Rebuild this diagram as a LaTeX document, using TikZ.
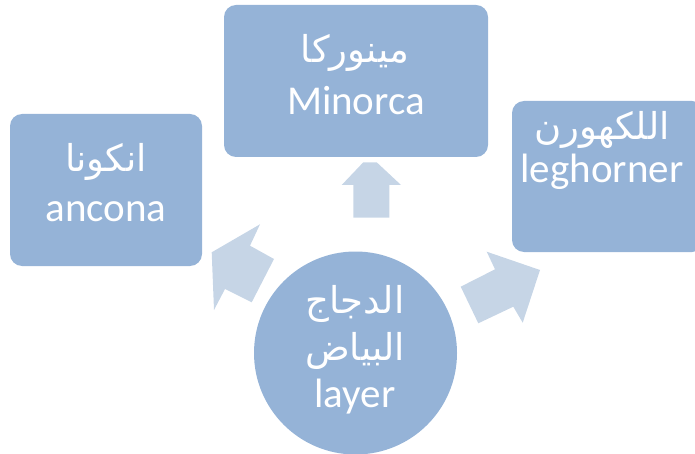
\documentclass[tikz,border=0pt]{standalone}
\usepackage{fontspec}
\setmainfont{Carlito}
\newfontfamily\arabicfont[Script=Arabic]{DejaVu Sans}
\TeXXeTstate=1
\definecolor{boxblue}{HTML}{95B3D7}
\definecolor{arrowblue}{HTML}{C6D5E6}
\begin{document}
\begin{tikzpicture}[x=1pt,y=-1pt,
  bluebox/.style={draw=none, fill=boxblue, rounded corners=12pt, inner sep=0pt},
  ring/.style={circle, draw=none, fill=boxblue, inner sep=0pt, minimum size=203pt},
  latintext/.style={text=white, inner sep=0pt, anchor=base, font=\fontsize{41}{49}\selectfont},
  arabtext/.style={text=white, inner sep=0pt, anchor=base, font=\fontsize{37}{44}\selectfont\arabicfont},
  blockarrow/.style={fill=arrowblue, draw=none}]
\useasboundingbox (0,0) rectangle (695,454);
\clip (0,0) rectangle (695,454);
% boxes
\node[bluebox, minimum width=192pt, minimum height=152pt] (ancona) at (106,190) {};
\node[bluebox, minimum width=264pt, minimum height=152pt] (minorca) at (356,81) {};
\node[bluebox, minimum width=192pt, minimum height=151pt] (leghorner) at (608,176.5) {};
\node[ring] (layer) at (355.5,353) {};
% arrows
\fill[blockarrow] (363.3,162.3) -- (376.7,162.3) -- (401,185) -- (389.3,185) -- (389.3,217.7) -- (353.3,217.7) -- (353.3,185) -- (341.7,185) -- cycle;
\fill[blockarrow] (260,224.3) -- (250,245.7) -- (274,259) -- (251.7,302.3) -- (225,289) -- (214,310) -- (211.7,252.3) -- cycle;
\fill[blockarrow] (486.7,251.7) -- (540,270) -- (522.7,322.7) -- (513.3,306.7) -- (478.3,323.3) -- (460.7,286.7) -- (495,269.3) -- cycle;
% texts
\node[arabtext] (anconaA) at (106,172) {\beginR انكونا\endR};
\node[latintext] (anconaL) at (106,222) {ancona};
\node[arabtext] (minorcaA) at (355,63) {\beginR مينوركا\endR};
\node[latintext] (minorcaL) at (356,115) {Minorca};
\node[arabtext] (leghornerA) at (602,140) {\beginR اللكهورن\endR};
\node[latintext] (leghornerL) at (602,183) {leghorner};
\node[arabtext] (layerA1) at (355,313) {\beginR الدجاج\endR};
\node[arabtext] (layerA2) at (355,360) {\beginR البياض\endR};
\node[latintext] (layerL) at (355,407) {layer};
\end{tikzpicture}
\end{document}
